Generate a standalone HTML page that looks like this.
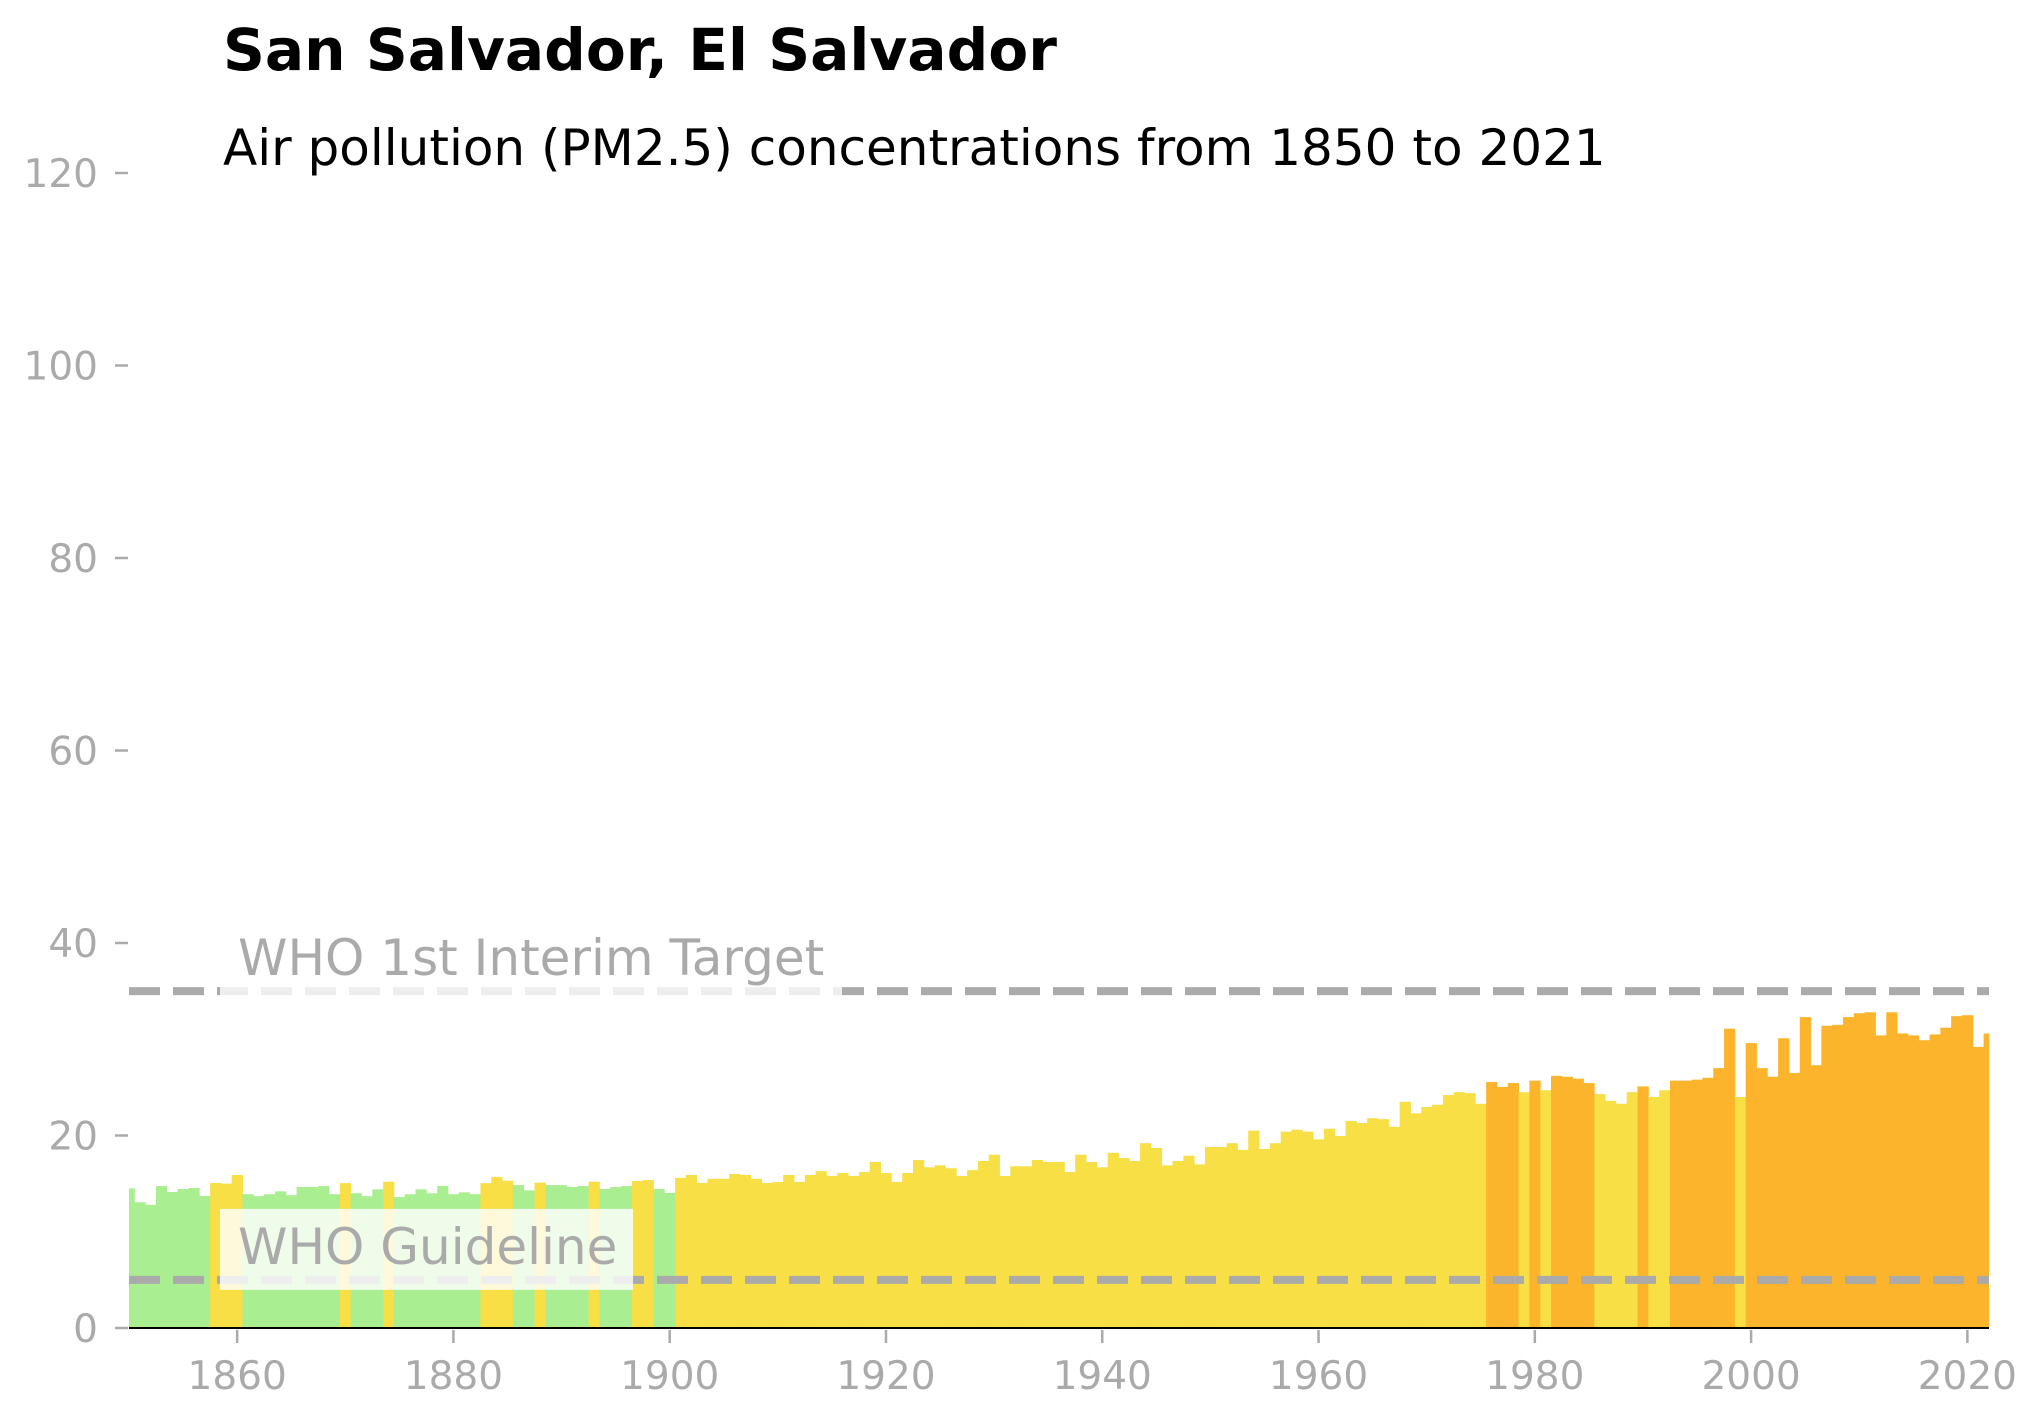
<!DOCTYPE html>
<html><head><meta charset="utf-8"><style>
html,body{margin:0;padding:0;background:#fff;}
svg{display:block;font-family:"DejaVu Sans","Liberation Sans",sans-serif;}
</style></head><body>
<svg id="chart" width="2043" height="1415" viewBox="0 0 2043 1415" xmlns="http://www.w3.org/2000/svg">
<defs><clipPath id="plotclip"><rect x="129" y="100" width="1860" height="1230"/></clipPath></defs>
<text x="223" y="70" font-size="58.2" font-weight="bold" fill="#000">San Salvador, El Salvador</text>
<text x="223" y="165" font-size="50" fill="#000">Air pollution (PM2.5) concentrations from 1850 to 2021</text>
<g id="bars" clip-path="url(#plotclip)"></g>
<g id="yaxis"></g>
<g id="xaxis"></g>
<g id="refs"></g>
</svg>
<script>
const startYear = 1850;
const pmValues = [
14.5,13.06,12.8,14.75,14.13,14.44,14.55,13.71,15.07,15.0,15.9,13.9,13.7,13.9,14.2,13.8,14.65,14.65,14.75,13.9,
15.05,14.0,13.7,14.4,15.2,13.6,13.9,14.4,14.0,14.75,13.9,14.1,13.9,15.05,15.7,15.3,14.85,14.3,15.1,14.85,
14.85,14.65,14.75,15.2,14.45,14.65,14.75,15.27,15.37,14.45,14.03,15.6,15.9,15.07,15.5,15.5,16.0,15.9,15.5,15.07,
15.17,15.9,15.17,15.9,16.3,15.8,16.1,15.8,16.2,17.25,16.1,15.17,16.1,17.45,16.7,16.9,16.6,15.8,16.4,17.35,
18.0,15.8,16.8,16.8,17.45,17.25,17.25,16.2,18.0,17.25,16.7,18.2,17.66,17.35,19.2,18.7,16.9,17.35,17.9,17.0,
18.8,18.8,19.2,18.5,20.5,18.6,19.2,20.4,20.6,20.4,19.6,20.7,19.95,21.5,21.3,21.8,21.7,20.9,23.5,22.3,
22.96,23.2,24.2,24.5,24.4,23.3,25.56,25.05,25.45,24.5,25.7,24.7,26.2,26.1,25.9,25.45,24.3,23.6,23.3,24.5,
25.1,24.0,24.7,25.7,25.7,25.8,26.0,27.0,31.1,24.0,29.6,27.0,26.1,30.1,26.5,32.3,27.3,31.4,31.5,32.3,
32.7,32.8,30.4,32.8,30.6,30.4,29.9,30.5,31.2,32.4,32.5,29.2,30.6
];
const yTicks = [0,20,40,60,80,100,120];
const xTicks = [1860,1880,1900,1920,1940,1960,1980,2000,2020];
const refValues = [35,5];
const refLabels = ["WHO 1st Interim Target","WHO Guideline"];

const NS="http://www.w3.org/2000/svg";
const X0=129,X1=1989,XMIN=1850,XMAX=2022,Y0=1328,PXU=9.625;
function xs(v){return X0+(v-XMIN)*(X1-X0)/(XMAX-XMIN);}
function ys(v){return Y0-v*PXU;}
function mk(tag,attrs,parent){const e=document.createElementNS(NS,tag);for(const k in attrs)e.setAttribute(k,attrs[k]);parent.appendChild(e);return e;}
function colorFor(v){return v<15?"#a9ee90":(v<25?"#f7df45":"#fbb42c");}

const gb=document.getElementById('bars');
pmValues.forEach((v,i)=>{
  const yr=startYear+i;
  const r=mk('rect',{x:xs(yr-0.5),y:ys(v),width:xs(yr+0.5)-xs(yr-0.5)+0.4,height:Y0-ys(v),fill:colorFor(v)},gb);
  
  
});

const gy=document.getElementById('yaxis');
yTicks.forEach(t=>{
  const l=mk('line',{x1:115,x2:128,y1:ys(t),y2:ys(t),stroke:'#aaa','stroke-width':2.5},gy);
  
  
  const tx=mk('text',{x:98,y:ys(t)+14,'font-size':39,fill:'#aaa','text-anchor':'end'},gy);
  tx.textContent=t;
  
  
});

const gx=document.getElementById('xaxis');
const ax=mk('line',{x1:X0,x2:X1,y1:Y0,y2:Y0,stroke:'#000','stroke-width':2},gx);


xTicks.forEach(t=>{
  const l=mk('line',{x1:xs(t),x2:xs(t),y1:Y0+2,y2:Y0+15,stroke:'#aaa','stroke-width':2.5},gx);
  
  
  const tx=mk('text',{x:xs(t),y:1389,'font-size':39,fill:'#aaa','text-anchor':'middle'},gx);
  tx.textContent=t;
  
  
});

const gr=document.getElementById('refs');
refValues.forEach((v,i)=>{
  const y=ys(v);
  const l=mk('line',{x1:X0,x2:X1,y1:y,y2:y,stroke:'#aaa','stroke-width':8,'stroke-dasharray':'31 13'},gr);
  
  
  const w = i===0 ? 622 : 413;
  const b=mk('rect',{x:220,y:y-71,width:w,height:81,fill:'#fff','fill-opacity':0.8},gr);
  
  
  const tx=mk('text',{x:238,y:y-16,'font-size':50,fill:'#aaa'},gr);
  tx.textContent=refLabels[i];
  
  
});
</script>
</body></html>
